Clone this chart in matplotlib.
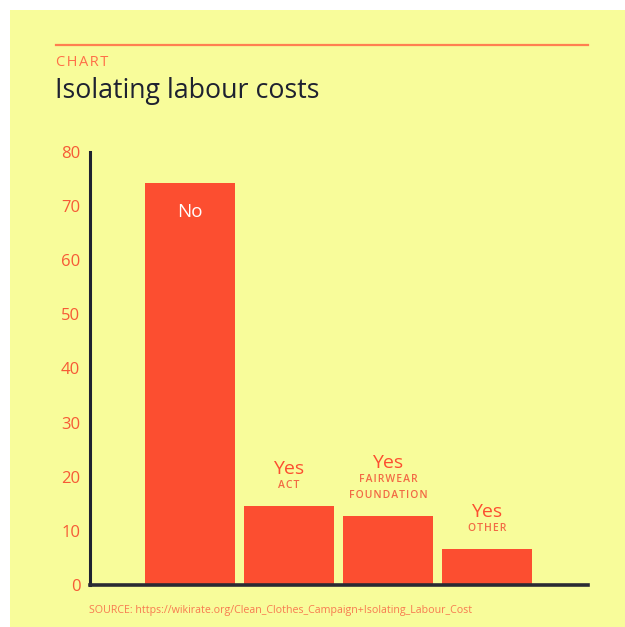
import matplotlib
matplotlib.use("Agg")
import matplotlib.pyplot as plt
from matplotlib.patches import Rectangle
from matplotlib.lines import Line2D

plt.rcParams['font.family'] = ['Open Sans', 'DejaVu Sans']

categories = ["No", "Yes", "Yes", "Yes"]
sublabels = ["", "ACT", "FAIRWEAR\nFOUNDATION", "OTHER"]
values = [74.3, 14.6, 12.8, 6.7]
yticks = [0, 10, 20, 30, 40, 50, 60, 70, 80]

W, H = 625, 627
BG = "#F8FC9A"
BAR = "#FC4E30"
ORANGE = "#F65A36"
DARK = "#1E2130"

fig = plt.figure(figsize=(W / 100, H / 100), dpi=100)
fig.patch.set_facecolor("white")
fig.patches.append(Rectangle((10 / W, 0), 1, 1 - 10 / H, transform=fig.transFigure,
                             facecolor=BG, edgecolor="none", zorder=-10))

# header rule
fig.add_artist(Line2D([56 / W, 588 / W], [1 - 45 / H, 1 - 45 / H], color="#FF7F50", lw=1.6))
fig.text(56 / W, 1 - 66 / H, "\u200a".join("CHART"), color="#FF7048", fontsize=10.5,
         va="baseline", ha="left")
fig.text(55 / W, 1 - 98 / H, "Isolating labour costs", color=DARK, fontsize=19.3,
         va="baseline", ha="left")

ax = fig.add_axes([90 / W, 1 - 585 / H, (588 - 90) / W, (585 - 152) / H])
ax.set_facecolor("none")
x = list(range(len(values)))
bars = ax.bar(x, values, width=0.909, color=BAR, zorder=2)
ax.set_xlim(-1.01, 4.02)
ax.set_ylim(0, 80)
ax.set_yticks(yticks)
ax.set_yticklabels([str(t) for t in yticks], color=ORANGE, fontsize=12)
ax.set_xticks([])
ax.tick_params(axis="y", length=0, pad=7)
for s in ["top", "right"]:
    ax.spines[s].set_visible(False)
ax.spines["left"].set_color(DARK)
ax.spines["left"].set_linewidth(2.2)
ax.spines["bottom"].set_color("#2a2a33")
ax.spines["bottom"].set_linewidth(2.6)
ax.spines["left"].set_zorder(3)
ax.spines["bottom"].set_zorder(3)

for i, (cat, sub, v) in enumerate(zip(categories, sublabels, values)):
    if i == 0:
        ax.annotate(cat, (i, v), xytext=(0, -29), textcoords="offset pixels",
                    ha="center", va="center", color="white", fontsize=13.5)
        continue
    nlines = sub.count("\n") + 1
    lines = sub.split("\n")
    for k, ln in enumerate(reversed(lines)):
        ax.annotate("\u200a".join(ln), (i, v), xytext=(0, 20 + 16 * k), textcoords="offset pixels",
                    ha="center", va="center", color="#F26A45", fontsize=7.5,
                    fontweight="semibold")
    ax.annotate(cat, (i, v), xytext=(0, 20 + 16 * (nlines - 1) + 17), textcoords="offset pixels",
                ha="center", va="center", color=BAR, fontsize=14)

fig.text(89 / W, 1 - 610 / H,
         "SOURCE: https://wikirate.org/Clean_Clothes_Campaign+Isolating_Labour_Cost",
         color="#F77A50", fontsize=7.7, va="center", ha="left")

fig.savefig("out.png", dpi=100, facecolor=fig.get_facecolor())
